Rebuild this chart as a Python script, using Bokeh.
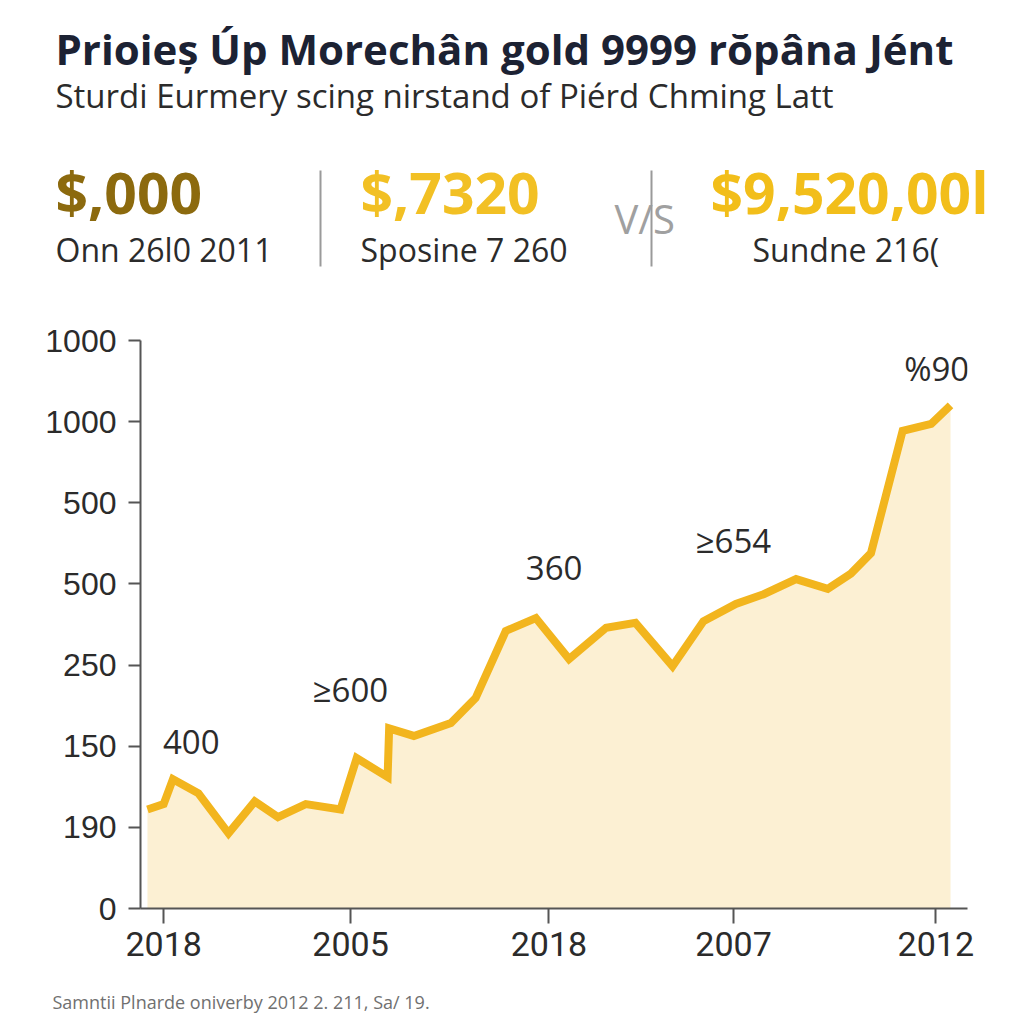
from bokeh.plotting import figure
from bokeh.layouts import column
from bokeh.models import FixedTicker, Range1d, ColumnDataSource
from bokeh.core.properties import value
from bokeh.embed import file_html
from bokeh.resources import INLINE

# ---------------- data ----------------
title_text = "Prioieș Úp Morechân gold 9999 rŏpâna Jént"
subtitle_text = "Sturdi Eurmery scing nirstand of Piérd Chming Latt"
stat_values = ["$,000", "$,7320", "$9,520,00l"]
stat_labels = ["Onn 26l0 2011", "Sposine 7 260", "Sundne 216("]
vs_text = "V/S"
footer_text = "Samntii Plnarde oniverby 2012 2. 211, Sa/ 19."

x_pos = [-2.1, 0.0, 1.2, 4.5, 8.4, 11.8, 14.8, 18.4, 22.9, 25.0, 29.0, 29.2,
         32.4, 37.2, 40.4, 44.3, 48.2, 52.5, 57.3, 61.1, 65.9, 69.9, 74.1,
         77.7, 81.9, 86.0, 89.0, 91.6, 95.7, 99.4, 101.9]
values = [183, 193, 239, 213, 139, 198, 169, 193, 183, 278, 243, 333,
          319, 343, 389, 513, 537, 461, 519, 528, 448, 531, 563,
          581, 609, 591, 619, 657, 883, 896, 930]

x_tick_pos = [0, 24.2, 49.9, 73.8, 100]
x_tick_labels = ["2018", "2005", "2018", "2007", "2012"]
y_tick_pos = [0, 150, 300, 450, 600, 750, 900, 1050]
y_tick_labels = ["0", "190", "150", "250", "500", "500", "1000", "1000"]

ann_text = ["400", "≥600", "360", "≥654", "%90"]
ann_x = [-0.1, 19.3, 46.9, 68.9, 95.9]
ann_y = [307, 405, 629, 680, 998]

# ---------------- style ----------------
LINE = "#F2B51E"
FILL = "#FCF0D3"
DARK = "#1c2233"
TXT = "#2b2b2b"
FONT = "Open Sans"
W = 1008

# ---------------- header ----------------
HH = 300
hd = figure(width=W, height=HH, output_backend="svg", toolbar_location=None,
            x_range=Range1d(0, W), y_range=Range1d(HH, 0),
            x_axis_type=None, y_axis_type=None, min_border=0)
hd.outline_line_color = None
hd.grid.visible = False
hd.frame_align = False


def htext(fig, txt, x, y, size, color, bold=False, font=FONT):
    fig.text(x=[x], y=[y], text=[txt], text_font=value(font),
             text_font_size=size, text_color=color,
             text_font_style="bold" if bold else "normal",
             text_baseline="alphabetic", text_align="left")


htext(hd, title_text, 55, 48, "42px", DARK, bold=True)
htext(hd, subtitle_text, 55, 95, "33px", TXT)
stat_colors = ["#8C6A0E", "#F2C024", "#F2BE1A"]
stat_x = [55, 360, 710]
label_x = [55, 360, 752]
for v, l, c, sx, lx in zip(stat_values, stat_labels, stat_colors, stat_x, label_x):
    htext(hd, v, sx, 191, "57px", c, bold=True)
    htext(hd, l, lx, 249, "32px", TXT)
htext(hd, vs_text, 614, 218, "40px", "#a0a0a0")
hd.segment(x0=[320, 651], y0=[170, 170], x1=[320, 651], y1=[266, 266],
           line_color="#9a9a9a", line_width=2)

# ---------------- main chart ----------------
FL, FR, FT, FB = 140, 967, 340, 908   # frame in page px
MH = 975 - HH
p = figure(width=W, height=MH, output_backend="svg", toolbar_location=None,
           x_range=Range1d(-3.0, 104.1), y_range=Range1d(0, 1050),
           min_border_left=FL, min_border_right=W - FR,
           min_border_top=FT - HH, min_border_bottom=HH + MH - FB)
p.outline_line_color = None
p.xgrid.visible = False
p.ygrid.visible = False
p.frame_align = False

src = ColumnDataSource(dict(x=x_pos, y=values))
p.varea(x="x", y1=0, y2="y", source=src, fill_color=FILL)
p.line(x="x", y="y", source=src, line_color=LINE, line_width=8, line_join="miter")

p.xaxis.ticker = FixedTicker(ticks=x_tick_pos)
p.xaxis.major_label_overrides = {t: l for t, l in zip(x_tick_pos, x_tick_labels)}
p.yaxis.ticker = FixedTicker(ticks=y_tick_pos)
p.yaxis.major_label_overrides = {t: l for t, l in zip(y_tick_pos, y_tick_labels)}
for ax in (p.xaxis, p.yaxis):
    ax.axis_line_color = "#555555"
    ax.axis_line_width = 2
    ax.major_tick_line_color = "#555555"
    ax.major_tick_line_width = 2
    ax.minor_tick_line_color = None
    ax.major_tick_in = 0
    ax.major_label_text_color = TXT
p.xaxis.major_tick_out = 15
p.xaxis.major_label_standoff = 8
p.xaxis.major_label_text_font = "Roboto"
p.xaxis.major_label_text_font_size = "34px"
p.yaxis.major_tick_out = 12
p.yaxis.major_label_standoff = 12
p.yaxis.major_label_text_font = "Liberation Sans"
p.yaxis.major_label_text_font_size = "32px"

p.text(x=ann_x, y=ann_y, text=ann_text, text_font=value(FONT),
       text_font_size="33px", text_color=TXT, text_baseline="alphabetic")

# ---------------- footer ----------------
FH = 1016 - 975
ft = figure(width=W, height=FH, output_backend="svg", toolbar_location=None,
            x_range=Range1d(0, W), y_range=Range1d(FH, 0),
            x_axis_type=None, y_axis_type=None, min_border=0)
ft.outline_line_color = None
ft.grid.visible = False
ft.frame_align = False
htext(ft, footer_text, 52, 1001 - 975, "18px", "#707070")

layout = column(hd, p, ft, spacing=0)
open("out.html", "w").write(file_html(layout, INLINE))
